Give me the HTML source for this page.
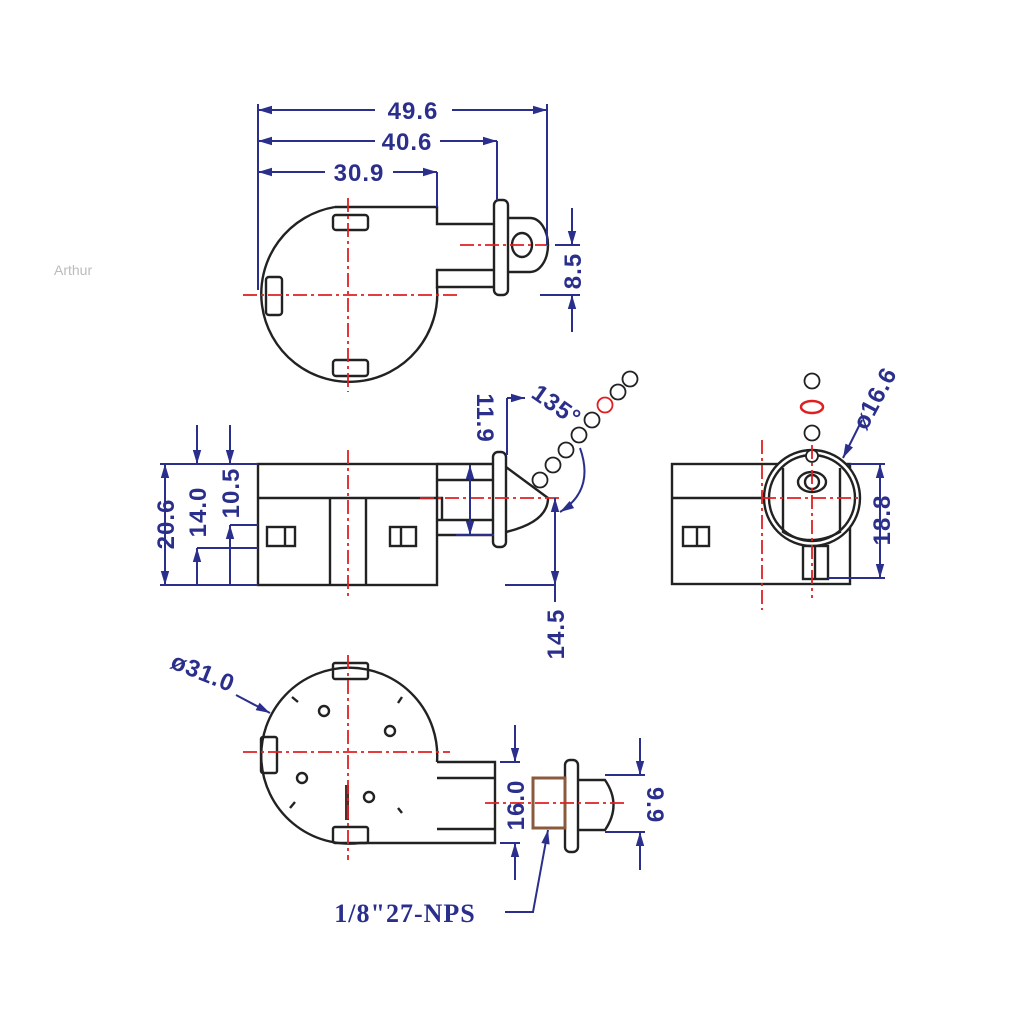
<!DOCTYPE html>
<html><head><meta charset="utf-8"><style>html,body{margin:0;padding:0;background:#fff}svg{display:block}</style></head><body>
<svg width="1024" height="1024" viewBox="0 0 1024 1024" xmlns="http://www.w3.org/2000/svg" font-family="Liberation Sans, Arial, sans-serif">
<defs>
<marker id="a" viewBox="0 0 10 10" refX="10" refY="5" markerWidth="9" markerHeight="7" orient="auto-start-reverse"><path d="M0,2 L10,5 L0,8z" fill="#2b2f8c"/></marker>
</defs>
<rect width="1024" height="1024" fill="#fff"/>
<text x="54" y="275" font-size="14" fill="#bbb">Arthur</text>

<!-- ===== TOP VIEW ===== -->
<g stroke="#222" stroke-width="2.4" fill="none">
<path d="M335,207 L437,207 L437,224 L495,224 M495,270 L437,270 L437,287 L495,287"/>
<path d="M335,207 A88,88 0 1 0 437,287"/>
<rect x="494" y="200" width="14" height="95" rx="5"/>
<path d="M508,218 L530,218 A18,27 0 0 1 530,272 L508,272"/>
<ellipse cx="522" cy="245" rx="10" ry="12"/>
<rect x="333" y="215" width="35" height="15" rx="3"/>
<rect x="266" y="277" width="16" height="38" rx="3"/>
<rect x="333" y="360" width="35" height="16" rx="3"/>
</g>
<g stroke="#e02020" stroke-width="1.8" stroke-dasharray="14,4,3,4" fill="none">
<line x1="243" y1="295" x2="460" y2="295"/>
<line x1="348" y1="198" x2="348" y2="392"/>
<line x1="460" y1="245" x2="548" y2="245"/>
</g>
<g stroke="#2b2f8c" stroke-width="2" fill="none">
<line x1="258" y1="104" x2="258" y2="290"/>
<line x1="547" y1="104" x2="547" y2="245"/>
<line x1="497" y1="141" x2="497" y2="200"/>
<line x1="437" y1="172" x2="437" y2="207"/>
<line x1="258" y1="110" x2="375" y2="110" marker-start="url(#a)"/><line x1="452" y1="110" x2="547" y2="110" marker-end="url(#a)"/>
<line x1="258" y1="141" x2="375" y2="141" marker-start="url(#a)"/><line x1="440" y1="141" x2="497" y2="141" marker-end="url(#a)"/>
<line x1="258" y1="172" x2="325" y2="172" marker-start="url(#a)"/><line x1="393" y1="172" x2="437" y2="172" marker-end="url(#a)"/>
<line x1="540" y1="295" x2="580" y2="295"/><line x1="555" y1="245" x2="580" y2="245"/>
<line x1="572" y1="208" x2="572" y2="245" marker-end="url(#a)"/>
<line x1="572" y1="332" x2="572" y2="295" marker-end="url(#a)"/>
</g>
<g fill="#2b2f8c" font-size="24" font-weight="bold" letter-spacing="1">
<text x="413" y="119" text-anchor="middle">49.6</text>
<text x="407" y="150" text-anchor="middle">40.6</text>
<text x="359" y="181" text-anchor="middle">30.9</text>
<text transform="translate(581,271) rotate(-90)" text-anchor="middle">8.5</text>
</g>

<!-- ===== MIDDLE VIEW ===== -->
<g stroke="#222" stroke-width="2.4" fill="none">
<rect x="258" y="464" width="179" height="121"/>
<line x1="258" y1="498" x2="437" y2="498"/>
<line x1="330" y1="498" x2="330" y2="585"/><line x1="366" y1="498" x2="366" y2="585"/>
<rect x="267" y="527" width="28" height="19"/><line x1="285" y1="527" x2="285" y2="546"/>
<rect x="390" y="527" width="26" height="19"/><line x1="401" y1="527" x2="401" y2="546"/>
<path d="M437,464 L494,464 M437,480 L494,480 M437,520 L494,520 M437,535 L494,535 M437,498 L442,498 L442,520"/>
<rect x="493" y="452" width="13" height="95" rx="5"/>
<path d="M506,467 L548,498 Q548,522 506,532"/>
</g>
<g stroke="#222" stroke-width="1.8" fill="#fff">
<circle cx="540" cy="480" r="7.5"/><circle cx="553" cy="465" r="7.5"/><circle cx="566" cy="450" r="7.5"/><circle cx="579" cy="435" r="7.5"/><circle cx="592" cy="420" r="7.5"/><circle cx="605" cy="405" r="7.5" stroke="#e02020"/><circle cx="618" cy="392" r="7.5"/><circle cx="630" cy="379" r="7.5"/>
</g>
<g stroke="#e02020" stroke-width="1.8" stroke-dasharray="14,4,3,4" fill="none">
<line x1="348" y1="450" x2="348" y2="598"/>
<line x1="420" y1="498" x2="560" y2="498"/>
</g>
<g stroke="#2b2f8c" stroke-width="2" fill="none">
<line x1="160" y1="464" x2="258" y2="464"/><line x1="160" y1="585" x2="258" y2="585"/>
<line x1="165" y1="464" x2="165" y2="585" marker-start="url(#a)" marker-end="url(#a)"/>
<line x1="197" y1="425" x2="197" y2="464" marker-end="url(#a)"/><line x1="197" y1="585" x2="197" y2="548" marker-end="url(#a)"/>
<line x1="197" y1="548" x2="258" y2="548"/>
<line x1="230" y1="425" x2="230" y2="464" marker-end="url(#a)"/><line x1="230" y1="585" x2="230" y2="525" marker-end="url(#a)"/>
<line x1="230" y1="525" x2="258" y2="525"/>
<line x1="470" y1="465" x2="470" y2="535" marker-start="url(#a)" marker-end="url(#a)"/>
<line x1="456" y1="535" x2="494" y2="535"/>
<line x1="555" y1="498" x2="555" y2="585" marker-start="url(#a)" marker-end="url(#a)"/>
<line x1="555" y1="585" x2="555" y2="602"/>
<line x1="505" y1="585" x2="555" y2="585"/>
<line x1="507" y1="398" x2="507" y2="455"/>
<line x1="507" y1="398" x2="525" y2="398" marker-end="url(#a)"/>
<path d="M580,448 Q595,490 560,512" marker-end="url(#a)"/>
</g>
<g fill="#2b2f8c" font-size="24" font-weight="bold" letter-spacing="1">
<text transform="translate(174,524) rotate(-90)" text-anchor="middle">20.6</text>
<text transform="translate(206,512) rotate(-90)" text-anchor="middle">14.0</text>
<text transform="translate(239,493) rotate(-90)" text-anchor="middle">10.5</text>
<text transform="translate(477,418) rotate(90)" text-anchor="middle">11.9</text>
<text transform="translate(564,634) rotate(-90)" text-anchor="middle">14.5</text>
<text transform="translate(552,412) rotate(35)" text-anchor="middle">135°</text>
</g>

<!-- ===== RIGHT VIEW ===== -->
<g stroke="#222" stroke-width="2.4" fill="none">
<rect x="672" y="464" width="178" height="120"/>
<line x1="672" y1="498" x2="765" y2="498"/>
<rect x="683" y="527" width="26" height="19"/><line x1="697" y1="527" x2="697" y2="546"/>
<circle cx="812" cy="498" r="48" fill="#fff"/><circle cx="812" cy="498" r="43"/>
<path d="M783,468 L783,532 Q810,548 840,532 L840,468"/>
<ellipse cx="812" cy="482" rx="14" ry="10"/><ellipse cx="812" cy="482" rx="7" ry="7"/>
<rect x="803" y="546" width="25" height="33"/><line x1="815" y1="546" x2="815" y2="579"/>
</g>
<g stroke="#222" stroke-width="1.8" fill="#fff">
<circle cx="812" cy="381" r="7.5"/><circle cx="812" cy="433" r="7.5"/><circle cx="812" cy="456" r="6"/>
</g>
<ellipse cx="812" cy="407" rx="11" ry="6" fill="none" stroke="#e02020" stroke-width="2.5"/>
<g stroke="#e02020" stroke-width="1.8" stroke-dasharray="14,4,3,4" fill="none">
<line x1="762" y1="440" x2="762" y2="610"/>
<line x1="812" y1="445" x2="812" y2="598"/>
<line x1="762" y1="498" x2="860" y2="498"/>
</g>
<g stroke="#2b2f8c" stroke-width="2" fill="none">
<line x1="850" y1="464" x2="885" y2="464"/><line x1="828" y1="578" x2="885" y2="578"/>
<line x1="880" y1="464" x2="880" y2="578" marker-start="url(#a)" marker-end="url(#a)"/>
<line x1="862" y1="420" x2="843" y2="458" marker-end="url(#a)"/>
</g>
<g fill="#2b2f8c" font-size="24" font-weight="bold" letter-spacing="1">
<text transform="translate(890,520) rotate(-90)" text-anchor="middle">18.8</text>
<text transform="translate(882,402) rotate(-62)" text-anchor="middle">ø16.6</text>
</g>

<!-- ===== BOTTOM VIEW ===== -->
<g stroke="#222" stroke-width="2.4" fill="none">
<path d="M437,762 A88,88 0 1 0 360,843"/>
<path d="M360,843 L495,843 L495,762 L437,762 M437,829 L495,829 M437,778 L495,778"/>
<rect x="333" y="663" width="35" height="16" rx="2"/>
<rect x="261" y="737" width="16" height="36" rx="2"/>
<rect x="333" y="827" width="35" height="16" rx="2"/>
<circle cx="324" cy="711" r="5"/><circle cx="390" cy="731" r="5"/><circle cx="302" cy="778" r="5"/><circle cx="369" cy="797" r="5"/>
<path d="M292,697 l6,5 M402,697 l-4,6 M290,808 l5,-6 M398,808 l4,5"/>
<rect x="565" y="760" width="13" height="92" rx="5"/>
<path d="M578,780 L605,780 Q622,805 605,830 L578,830"/>
</g>
<rect x="533" y="778" width="32" height="50" fill="none" stroke="#8a5a3c" stroke-width="3"/>
<line x1="347" y1="785" x2="347" y2="820" stroke="#5a2a2a" stroke-width="4"/>
<g stroke="#e02020" stroke-width="1.8" stroke-dasharray="14,4,3,4" fill="none">
<line x1="243" y1="752" x2="450" y2="752"/>
<line x1="348" y1="655" x2="348" y2="860"/>
<line x1="485" y1="803" x2="625" y2="803"/>
</g>
<g stroke="#2b2f8c" stroke-width="2" fill="none">
<line x1="500" y1="762" x2="520" y2="762"/><line x1="500" y1="843" x2="520" y2="843"/>
<line x1="515" y1="725" x2="515" y2="762" marker-end="url(#a)"/><line x1="515" y1="880" x2="515" y2="843" marker-end="url(#a)"/>
<line x1="605" y1="775" x2="645" y2="775"/><line x1="605" y1="832" x2="645" y2="832"/>
<line x1="640" y1="738" x2="640" y2="775" marker-end="url(#a)"/><line x1="640" y1="870" x2="640" y2="832" marker-end="url(#a)"/>
<path d="M505,912 L533,912 L548,830" marker-end="url(#a)"/>
<line x1="236" y1="695" x2="270" y2="713" marker-end="url(#a)"/>
</g>
<g fill="#2b2f8c" font-size="24" font-weight="bold" letter-spacing="1">
<text transform="translate(524,805) rotate(-90)" text-anchor="middle">16.0</text>
<text transform="translate(647,805) rotate(90)" text-anchor="middle">9.9</text>
<text x="405" y="922" text-anchor="middle" font-family="Liberation Serif, serif" font-size="26">1/8"27-NPS</text>
<text transform="translate(200,680) rotate(22)" text-anchor="middle">ø31.0</text>
</g>
</svg>
</body></html>
